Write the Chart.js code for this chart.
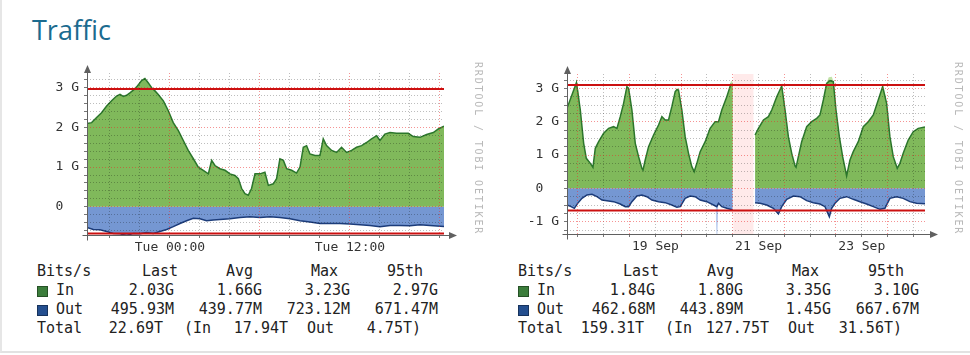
<!DOCTYPE html>
<html><head><meta charset="utf-8">
<script src="https://cdn.jsdelivr.net/npm/chart.js@4.4.1/dist/chart.umd.min.js"></script>
<style>
html,body{margin:0;padding:0;background:#fff;}
body{width:970px;height:355px;position:relative;overflow:hidden;}
#frame{position:absolute;left:0;top:0;width:968px;height:351px;border-left:2px solid #e6e6e6;border-bottom:2px solid #e2e2e2;}
#title{position:absolute;left:32px;top:11px;font:27px "Open Sans",sans-serif;color:#1b6b8f;line-height:normal;}
canvas{position:absolute;top:60px;}
.wm{position:absolute;top:62px;font:10px "DejaVu Sans Mono",monospace;line-height:10px;letter-spacing:1.85px;color:#b9b9b9;white-space:pre;transform:rotate(90deg);transform-origin:0 0;}
.lg{position:absolute;font:15px "DejaVu Sans Mono",monospace;color:#222;line-height:19px;white-space:pre;}
.sw{position:absolute;width:11px;height:11px;box-sizing:border-box;border:1px solid rgba(0,0,0,0.35);}
</style></head>
<body>
<div id="frame"></div>
<div id="title">Traffic</div>
<canvas id="cDay" width="490" height="200" style="left:0px"></canvas>
<canvas id="cWeek" width="490" height="200" style="left:480px"></canvas>
<div class="wm" style="left:483px">RRDTOOL / TOBI OETIKER</div>
<div class="wm" style="left:963px">RRDTOOL / TOBI OETIKER</div>
<script>
// ===== Left graph (last day), x = hours relative to Tue 00:00, y = Gbit/s
const dayInHours = [-5.53,-5.22,-4.89,-4.56,-4.22,-3.89,-3.56,-3.33,-3.11,-2.89,-2.67,-2.44,-2.22,-1.89,-1.67,-1.44,-1.22,-1.0,-0.78,-0.44,-0.11,0.22,0.56,0.89,1.22,1.56,1.89,2.22,2.56,2.78,3.0,3.33,3.67,4.0,4.33,4.56,4.78,5.0,5.22,5.44,5.67,6.0,6.33,6.56,6.89,7.11,7.33,7.56,7.78,8.11,8.44,8.67,8.89,9.11,9.33,9.67,10.0,10.22,10.44,10.78,11.11,11.44,11.78,12.11,12.44,12.78,13.11,13.44,13.78,14.0,14.33,14.67,15.11,15.56,15.89,16.22,16.67,17.11,17.56,17.89,18.27];
const dayIn = [2.1,2.12,2.25,2.37,2.54,2.67,2.79,2.83,2.78,2.81,2.87,2.94,3.02,3.18,3.23,3.12,3.0,2.92,2.83,2.67,2.42,2.12,1.92,1.67,1.42,1.21,1.0,0.92,0.83,1.17,1.04,0.96,0.92,0.83,0.79,0.71,0.46,0.33,0.29,0.46,0.83,0.83,0.87,0.54,0.58,0.71,1.21,1.17,0.96,0.92,0.85,1.0,1.5,1.54,1.33,1.29,1.29,1.71,1.54,1.42,1.37,1.5,1.37,1.42,1.5,1.54,1.62,1.71,1.79,1.67,1.83,1.87,1.85,1.85,1.85,1.77,1.75,1.82,1.87,1.96,2.03];
const dayOutHours = [-5.53,-5.11,-4.67,-4.22,-3.78,-3.33,-2.89,-2.44,-2.0,-1.56,-1.11,-0.67,-0.22,0.22,0.67,1.11,1.56,2.0,2.44,2.89,3.33,4.0,4.67,5.33,6.0,6.67,7.33,8.0,8.67,9.33,10.0,10.67,11.33,12.0,12.67,13.33,14.0,14.67,15.33,16.0,16.67,17.33,18.27];
const dayOut = [-0.52,-0.57,-0.58,-0.62,-0.67,-0.68,-0.72,-0.67,-0.68,-0.65,-0.67,-0.62,-0.57,-0.5,-0.42,-0.35,-0.29,-0.30,-0.35,-0.33,-0.32,-0.30,-0.27,-0.25,-0.27,-0.25,-0.27,-0.30,-0.35,-0.38,-0.42,-0.42,-0.42,-0.43,-0.45,-0.47,-0.5,-0.47,-0.47,-0.48,-0.45,-0.47,-0.496];
const day95th = [2.97, -0.67147];
const dayXTicks = [-4,-2,0,2,4,6,8,10,12,14,16,18];
const dayXLabelAt = [0, 12];
const dayXLabels = ['Tue 00:00', 'Tue 12:00'];
const dayYTicks = [-0.6,-0.4,-0.2,0,0.2,0.4,0.6,0.8,1,1.2,1.4,1.6,1.8,2,2.2,2.4,2.6,2.8,3,3.2];
const dayYLabelAt = [0, 1, 2, 3];
const dayYLabels = ['0  ', '1 G', '2 G', '3 G'];

// ===== Right graph (last week), x = days relative to 18 Sep 00:00, y = Gbit/s
const weekInDays = [-0.213,-0.03,0.045,0.11,0.161,0.239,0.29,0.335,0.4,0.497,0.594,0.69,0.755,0.819,0.884,0.948,0.981,1.045,1.11,1.174,1.239,1.26,1.303,1.368,1.465,1.561,1.626,1.69,1.755,1.819,1.884,1.92,1.948,2.013,2.077,2.142,2.206,2.252,2.303,2.368,2.465,2.561,2.658,2.723,2.787,2.884,2.961,3.0,3.2,3.432,3.497,3.594,3.69,3.755,3.852,3.948,4.013,4.077,4.142,4.206,4.226,4.271,4.335,4.432,4.529,4.626,4.69,4.755,4.819,4.884,4.948,5.0,5.065,5.129,5.206,5.271,5.335,5.432,5.529,5.626,5.723,5.819,5.903,5.981,6.045,6.11,6.187,6.239,6.303,6.4,6.497,6.594,6.725];
const weekIn = [2.4,3.17,2.35,1.35,0.9,0.75,0.63,1.2,1.4,1.65,1.8,1.85,1.8,2.15,2.55,3.05,3.0,2.35,1.35,0.95,0.6,0.55,0.85,1.25,1.6,1.9,2.15,2.05,2.05,2.45,2.9,2.97,2.95,2.35,1.55,1.05,0.65,0.5,0.75,1.1,1.4,1.8,2.0,2.0,2.35,2.75,3.12,3.1,null,1.6,1.8,2.05,2.15,2.35,2.75,3.07,2.35,1.55,1.05,0.67,0.63,0.95,1.4,1.85,2.0,2.1,2.2,2.65,3.15,3.23,3.2,2.35,1.55,0.95,0.37,0.85,1.1,1.4,1.85,2.0,2.2,2.65,3.05,2.55,1.55,0.95,0.6,0.75,1.05,1.45,1.7,1.8,1.84];
const weekOutDays = [-0.213,-0.135,-0.071,-0.006,0.077,0.174,0.271,0.368,0.465,0.561,0.69,0.819,0.916,0.981,1.045,1.142,1.239,1.335,1.432,1.561,1.69,1.819,1.916,1.981,2.077,2.174,2.271,2.368,2.497,2.626,2.69,2.723,2.787,2.884,3.0,3.2,3.432,3.529,3.658,3.787,3.884,3.948,4.045,4.174,4.303,4.432,4.561,4.69,4.787,4.871,4.916,4.981,5.077,5.206,5.335,5.465,5.594,5.723,5.852,5.948,6.045,6.174,6.303,6.432,6.561,6.725];
const weekOut = [-0.5,-0.55,-0.6,-0.45,-0.3,-0.2,-0.18,-0.25,-0.35,-0.37,-0.4,-0.47,-0.55,-0.55,-0.4,-0.23,-0.2,-0.25,-0.35,-0.4,-0.43,-0.5,-0.57,-0.55,-0.3,-0.23,-0.25,-0.35,-0.4,-0.5,-0.55,-0.45,-0.55,-0.6,-0.65,null,-0.43,-0.45,-0.5,-0.6,-0.77,-0.55,-0.33,-0.23,-0.25,-0.37,-0.43,-0.47,-0.55,-0.85,-0.6,-0.45,-0.3,-0.25,-0.33,-0.4,-0.47,-0.55,-0.63,-0.6,-0.3,-0.25,-0.3,-0.4,-0.45,-0.46];
const weekInMaxDays = [-0.09,-0.03,0.03,0.04,0.9,0.95,1.0,1.01,2.92,2.965,3.0,3.01,3.9,3.95,4.0,4.01,4.8,4.86,4.92,4.97,4.98,5.86,5.915,5.97];
const weekInMax = [2.65,3.28,2.7,null,2.75,3.1,2.75,null,2.95,3.22,3.2,null,2.85,3.15,2.6,null,3.1,3.33,3.35,3.1,null,2.85,3.12,2.7];
const weekOutMaxDays = [2.665,2.685,2.7,2.72];
const weekOutMax = [-0.5,-1.45,-1.45,-0.5];
const week95th = [3.10, -0.66767];
const weekGap = [[3.01, 3.40]];
const weekXTicks = [0,0.5,1,1.5,2,2.5,3,3.5,4,4.5,5,5.5,6,6.5];
const weekXLabelAt = [1.5, 3.5, 5.5];
const weekXLabels = ['19 Sep', '21 Sep', '23 Sep'];
const weekYTicks = [-1.25,-1,-0.75,-0.5,-0.25,0,0.25,0.5,0.75,1,1.25,1.5,1.75,2,2.25,2.5,2.75,3,3.25];
const weekYLabelAt = [-1, 0, 1, 2, 3];
const weekYLabels = ['-1 G', '0  ', '1 G', '2 G', '3 G'];

// ===== Legend texts
const legendHead = ['Bits/s', 'Last', 'Avg', 'Max', '95th'];
const dayLegendIn = ['2.03G', '1.66G', '3.23G', '2.97G'];
const dayLegendOut = ['495.93M', '439.77M', '723.12M', '671.47M'];
const dayTotals = ['22.69T', '17.94T', '4.75T'];
const weekLegendIn = ['1.84G', '1.80G', '3.35G', '3.10G'];
const weekLegendOut = ['462.68M', '443.89M', '1.45G', '667.67M'];
const weekTotals = ['159.31T', '127.75T', '31.56T'];

const near = (a, b) => Math.abs(a - b) < 1e-6;
const isMult = (v, s) => near(v / s, Math.round(v / s));
const AXIS_FONT = {family: 'DejaVu Sans Mono', size: 13};

const rrdPlugin = {
  id: 'rrd',
  beforeDraw(chart, args, opts) {
    const {ctx, chartArea: a, scales: {x}} = chart;
    (opts.gaps || []).forEach(g => {
      const x1 = x.getPixelForValue(g[0]), x2 = x.getPixelForValue(g[1]);
      ctx.save();
      ctx.fillStyle = 'rgba(255,190,190,0.32)';
      ctx.fillRect(x1, a.top, x2 - x1, a.bottom - a.top);
      ctx.restore();
    });
  },
  afterDraw(chart) {
    const {ctx, chartArea: a} = chart;
    ctx.save();
    ctx.strokeStyle = '#606060'; ctx.fillStyle = '#606060'; ctx.lineWidth = 1;
    const ax = Math.round(a.left) + 0.5, ay = Math.round(a.bottom) + 0.5;
    ctx.beginPath();
    ctx.moveTo(ax, ay + 5); ctx.lineTo(ax, a.top);
    ctx.moveTo(ax - 5, ay); ctx.lineTo(a.right + 6, ay);
    ctx.stroke();
    ctx.beginPath();
    ctx.moveTo(ax, a.top - 8); ctx.lineTo(ax - 3.5, a.top); ctx.lineTo(ax + 3.5, a.top); ctx.closePath(); ctx.fill();
    ctx.beginPath();
    ctx.moveTo(a.right + 13, ay); ctx.lineTo(a.right + 5, ay - 3.5); ctx.lineTo(a.right + 5, ay + 3.5); ctx.closePath(); ctx.fill();
    ctx.restore();
  }
};

function makeChart(id, cfg) {
  const pts = (xs, ys) => xs.map((x, i) => ({x: x, y: ys[i]}));
  const gridColor = (major) => (c) => (c.tick && isMult(c.tick.value, major)) ? 'rgba(235,40,40,0.5)' : 'rgba(0,0,0,0.26)';
  const label = (at, txt) => (v) => { const i = at.findIndex(t => near(t, v)); return i < 0 ? '' : txt[i]; };
  return new Chart(document.getElementById(id), {
    type: 'line',
    data: {datasets: [
      {data: [{x: cfg.xMin, y: cfg.p95[0]}, {x: cfg.xMax, y: cfg.p95[0]}], borderColor: '#cc1010', borderWidth: 2, fill: false},
      {data: [{x: cfg.xMin, y: cfg.p95[1]}, {x: cfg.xMax, y: cfg.p95[1]}], borderColor: '#cc1010', borderWidth: 2, fill: false},
      {data: pts(cfg.inX, cfg.inY), borderColor: '#2c772c', backgroundColor: '#80b95b', borderWidth: 1.5, fill: 'origin'},
      {data: pts(cfg.outX, cfg.outY), borderColor: '#1c3c7a', backgroundColor: '#7597d2', borderWidth: 1.5, fill: 'origin'},
      {data: pts(cfg.inMaxX, cfg.inMaxY), borderColor: 'rgba(0,0,0,0)', backgroundColor: '#c2e2a8', borderWidth: 0, fill: 'origin'},
      {data: pts(cfg.outMaxX, cfg.outMaxY), borderColor: 'rgba(0,0,0,0)', backgroundColor: '#b8cbee', borderWidth: 0, fill: 'origin'}
    ]},
    plugins: [rrdPlugin],
    options: {
      responsive: false, animation: false, events: [],
      layout: {padding: {left: 0, right: cfg.padR, top: cfg.padT, bottom: 0}},
      elements: {point: {radius: 0}, line: {tension: 0}},
      plugins: {legend: {display: false}, tooltip: {enabled: false}, rrd: {gaps: cfg.gaps}},
      scales: {
        x: {
          type: 'linear', min: cfg.xMin, max: cfg.xMax, bounds: 'data',
          afterBuildTicks: s => { s.ticks = cfg.xTicks.map(v => ({value: v})); },
          afterFit: s => { s.height = cfg.xAxisH; },
          ticks: {autoSkip: false, maxRotation: 0, padding: 2, color: '#333', font: AXIS_FONT, callback: label(cfg.xLabelAt, cfg.xLabels)},
          grid: {z: 1, color: gridColor(cfg.xMajor), lineWidth: 1, drawTicks: true, tickLength: 3, tickColor: '#777'},
          border: {display: false, dash: [1, 2]}
        },
        y: {
          type: 'linear', min: cfg.yMin, max: cfg.yMax, bounds: 'data',
          afterBuildTicks: s => { s.ticks = cfg.yTicks.map(v => ({value: v})); },
          afterFit: s => { s.width = 87; },
          ticks: {autoSkip: false, padding: 5, color: '#333', font: AXIS_FONT, callback: label(cfg.yLabelAt, cfg.yLabels)},
          grid: {z: 1, color: gridColor(1), lineWidth: 1, drawTicks: true, tickLength: 3, tickColor: '#777'},
          border: {display: false, dash: [1, 2]}
        }
      }
    }
  });
}

makeChart('cDay', {
  xMin: -5.53, xMax: 18.27, yMin: -0.71, yMax: 3.37, padR: 46, padT: 13, xAxisH: 25, xMajor: 6,
  inX: dayInHours, inY: dayIn, outX: dayOutHours, outY: dayOut,
  inMaxX: [], inMaxY: [], outMaxX: [], outMaxY: [], p95: day95th, gaps: [],
  xTicks: dayXTicks, xLabelAt: dayXLabelAt, xLabels: dayXLabels,
  yTicks: dayYTicks, yLabelAt: dayYLabelAt, yLabels: dayYLabels
});
makeChart('cWeek', {
  xMin: -0.213, xMax: 6.725, yMin: -1.37, yMax: 3.43, padR: 45, padT: 14, xAxisH: 26, xMajor: 1,
  inX: weekInDays, inY: weekIn, outX: weekOutDays, outY: weekOut,
  inMaxX: weekInMaxDays, inMaxY: weekInMax, outMaxX: weekOutMaxDays, outMaxY: weekOutMax, p95: week95th, gaps: weekGap,
  xTicks: weekXTicks, xLabelAt: weekXLabelAt, xLabels: weekXLabels,
  yTicks: weekYTicks, yLabelAt: weekYLabelAt, yLabels: weekYLabels
});

// ===== HTML legends (RRDtool style)
function txt(s, x, top, right) {
  const d = document.createElement('div');
  d.className = 'lg'; d.textContent = s; d.style.top = top + 'px';
  if (right) d.style.right = (970 - x) + 'px'; else d.style.left = x + 'px';
  document.body.appendChild(d);
}
function swatch(x, y, color) {
  const d = document.createElement('div');
  d.className = 'sw'; d.style.left = x + 'px'; d.style.top = y + 'px'; d.style.background = color;
  document.body.appendChild(d);
}
function buildLegend(ox, inVals, outVals, totals) {
  const headX = [37, 142, 226, 311, 387];
  const valR = [174, 262, 350, 438];
  legendHead.forEach((h, i) => txt(h, headX[i] + ox, 262, false));
  swatch(37 + ox, 286, '#3b7d3b');
  swatch(37 + ox, 305, '#244f8f');
  txt('In', 56 + ox, 281, false);
  txt('Out', 56 + ox, 300, false);
  inVals.forEach((v, i) => txt(v, valR[i] + ox, 281, true));
  outVals.forEach((v, i) => txt(v, valR[i] + ox, 300, true));
  txt('Total', 37 + ox, 319, false);
  txt(totals[0], 163 + ox, 319, true);
  txt('(In', 184 + ox, 319, false);
  txt(totals[1], 288 + ox, 319, true);
  txt('Out', 307 + ox, 319, false);
  txt(totals[2] + ')', 421 + ox, 319, true);
}
buildLegend(0, dayLegendIn, dayLegendOut, dayTotals);
buildLegend(481, weekLegendIn, weekLegendOut, weekTotals);
</script>
</body></html>
